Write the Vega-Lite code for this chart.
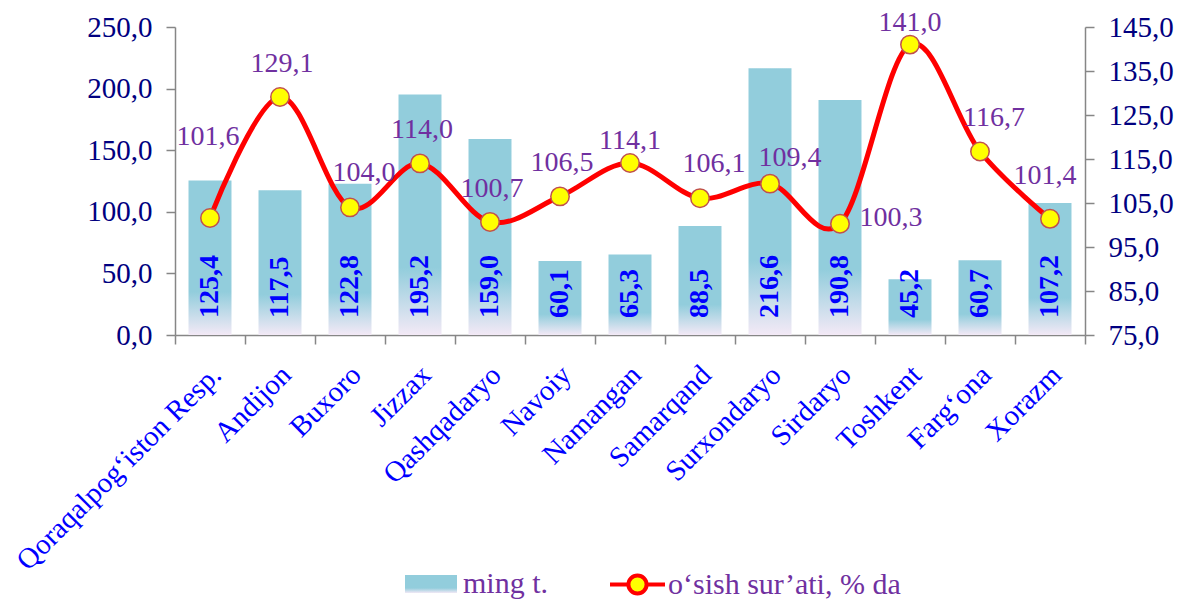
{
  "$schema": "https://vega.github.io/schema/vega-lite/v6.json",
  "width": 910,
  "height": 308,
  "autosize": {"type": "none"},
  "padding": {"left": 175, "top": 27, "right": 92, "bottom": 266},
  "background": "white",
  "config": {
    "view": {"stroke": null},
    "font": "Liberation Serif",
    "locale": {"number": {"decimal": ",", "thousands": " ", "grouping": [3], "currency": ["", ""]}}
  },
  "data": {
    "values": [
      {"region": "Qoraqalpog‘iston Resp.", "tonnes": 125.4, "growth": 101.6},
      {"region": "Andijon", "tonnes": 117.5, "growth": 129.1},
      {"region": "Buxoro", "tonnes": 122.8, "growth": 104.0},
      {"region": "Jizzax", "tonnes": 195.2, "growth": 114.0},
      {"region": "Qashqadaryo", "tonnes": 159.0, "growth": 100.7},
      {"region": "Navoiy", "tonnes": 60.1, "growth": 106.5},
      {"region": "Namangan", "tonnes": 65.3, "growth": 114.1},
      {"region": "Samarqand", "tonnes": 88.5, "growth": 106.1},
      {"region": "Surxondaryo", "tonnes": 216.6, "growth": 109.4},
      {"region": "Sirdaryo", "tonnes": 190.8, "growth": 100.3},
      {"region": "Toshkent", "tonnes": 45.2, "growth": 141.0},
      {"region": "Farg‘ona", "tonnes": 60.7, "growth": 116.7},
      {"region": "Xorazm", "tonnes": 107.2, "growth": 101.4}
    ]
  },
  "layer": [
    {
      "layer": [
        {
          "mark": {"type": "bar", "width": {"band": 0.614}, "fill": {"gradient": "linear", "x1": 0, "y1": 0, "x2": 0, "y2": 1,
                "stops": [{"offset": 0, "color": "#92CDDC"}, {"offset": 0.72, "color": "#92CDDC"}, {"offset": 1, "color": "#F3E9F6"}]}},
          "encoding": {
            "x": {
              "field": "region", "type": "nominal", "sort": null,
              "scale": {"paddingInner": 0, "paddingOuter": 0},
              "axis": {
                "title": null, "labelAngle": -45, "labelAlign": "right", "labelBaseline": "middle",
                "labelFont": "Liberation Serif", "labelFontSize": 29, "labelColor": "#0000FF",
                "tickBand": "extent", "tickSize": 9, "tickColor": "#868686", "tickWidth": 1.5,
                "domainColor": "#868686", "domainWidth": 1.5, "labelOffset": 6, "labelPadding": 26,
                "labelLimit": 0, "labelOverlap": false, "grid": false
              }
            },
            "y": {
              "field": "tonnes", "type": "quantitative",
              "scale": {"domain": [0, 250], "nice": false, "zero": true},
              "axis": {
                "orient": "left", "title": null, "values": [0, 50, 100, 150, 200, 250], "format": ".1f",
                "grid": false, "domainColor": "#868686", "domainWidth": 1.5, "tickColor": "#868686",
                "tickWidth": 1.5, "tickSize": 9, "labelFont": "Liberation Serif", "labelFontSize": 29,
                "labelColor": "#000080", "labelPadding": 14, "labelOverlap": false
              }
            },
            "opacity": {
              "datum": "ming t.", "type": "ordinal",
              "scale": {"type": "ordinal", "range": [1]},
              "legend": {
                "title": null, "orient": "none", "legendX": 230, "legendY": 531,
                "symbolType": "M-1,-0.35H1V0.35H-1Z", "symbolSize": 2704, "symbolStrokeWidth": 0,
                "labelFont": "Liberation Serif", "labelFontSize": 30, "labelColor": "#7030A0", "labelOffset": 6, "labelLimit": 0,
                "encode": {"symbols": {"update": {"fill": {"value": {"gradient": "linear", "x1": 0, "y1": 0, "x2": 0, "y2": 1,
                  "stops": [{"offset": 0, "color": "#92CDDC"}, {"offset": 0.6, "color": "#92CDDC"}, {"offset": 1, "color": "#F3E9F6"}]}}, "opacity": {"value": 1}}}}
              }
            }
          }
        },
        {
          "mark": {"type": "text", "angle": 270, "align": "left", "baseline": "middle", "dx": 17,
            "font": "Liberation Serif", "fontSize": 28, "fontWeight": "bold", "color": "#0000FF"},
          "encoding": {
            "x": {"field": "region", "type": "nominal", "sort": null},
            "y": {"datum": 0},
            "text": {"field": "tonnes", "type": "quantitative", "format": ".1f"}
          }
        }
      ]
    },
    {
      "encoding": {
        "x": {"field": "region", "type": "nominal", "sort": null},
        "y": {
          "field": "growth", "type": "quantitative",
          "scale": {"domain": [75, 145], "nice": false, "zero": false},
          "axis": {
            "orient": "right", "title": null, "values": [75, 85, 95, 105, 115, 125, 135, 145], "format": ".1f",
            "grid": false, "domainColor": "#868686", "domainWidth": 1.5, "tickColor": "#868686",
            "tickWidth": 1.5, "tickSize": 9, "labelFont": "Liberation Serif", "labelFontSize": 29,
            "labelColor": "#000080", "labelPadding": 14, "labelOverlap": false
          }
        }
      },
      "layer": [
        {
          "mark": {"type": "line", "interpolate": "cardinal", "strokeWidth": 5},
          "encoding": {
            "stroke": {
              "datum": "o‘sish sur’ati, % da", "type": "nominal",
              "scale": {"range": ["#FF0000"]},
              "legend": {
                "title": null, "orient": "none", "legendX": 433, "legendY": 528,
                "symbolType": "M-1,0H-0.33M0.33,0H1M0.33,0A0.33,0.33 0 1 1 -0.33,0A0.33,0.33 0 1 1 0.33,0",
                "symbolSize": 3025, "symbolStrokeWidth": 4, "symbolFillColor": "#FFFF00",
                "labelFont": "Liberation Serif", "labelFontSize": 30, "labelColor": "#7030A0", "labelOffset": 1, "labelLimit": 0,
                "encode": {"symbols": {"update": {"fill": {"value": "#FFFF00"}, "strokeWidth": {"value": 4}, "opacity": {"value": 1}}}}
              }
            }
          }
        },
        {
          "mark": {"type": "point", "shape": "circle", "size": 340, "filled": true, "fill": "#FFFF00",
            "stroke": "#C0504D", "strokeWidth": 1.5, "opacity": 1}
        },
        {
          "transform": [{"filter": {"field": "region", "oneOf": ["Andijon", "Qashqadaryo", "Navoiy", "Jizzax"]}}],
          "mark": {"type": "text", "align": "center", "baseline": "middle", "dy": -33, "dx": 2,
            "font": "Liberation Serif", "fontSize": 28, "color": "#7030A0"},
          "encoding": {"text": {"field": "growth", "type": "quantitative", "format": ".1f"}}
        },
        {
          "transform": [{"filter": {"field": "region", "oneOf": ["Buxoro", "Samarqand", "Farg‘ona"]}}],
          "mark": {"type": "text", "align": "center", "baseline": "middle", "dy": -34, "dx": 14,
            "font": "Liberation Serif", "fontSize": 28, "color": "#7030A0"},
          "encoding": {"text": {"field": "growth", "type": "quantitative", "format": ".1f"}}
        },
        {
          "transform": [{"filter": {"field": "region", "oneOf": ["Namangan", "Toshkent"]}}],
          "mark": {"type": "text", "align": "center", "baseline": "middle", "dy": -22, "dx": 0,
            "font": "Liberation Serif", "fontSize": 28, "color": "#7030A0"},
          "encoding": {"text": {"field": "growth", "type": "quantitative", "format": ".1f"}}
        },
        {
          "transform": [{"filter": {"field": "region", "equal": "Qoraqalpog‘iston Resp."}}],
          "mark": {"type": "text", "align": "center", "baseline": "middle", "dy": -81, "dx": -2,
            "font": "Liberation Serif", "fontSize": 28, "color": "#7030A0"},
          "encoding": {"text": {"field": "growth", "type": "quantitative", "format": ".1f"}}
        },
        {
          "transform": [{"filter": {"field": "region", "equal": "Surxondaryo"}}],
          "mark": {"type": "text", "align": "center", "baseline": "middle", "dy": -26, "dx": 20,
            "font": "Liberation Serif", "fontSize": 28, "color": "#7030A0"},
          "encoding": {"text": {"field": "growth", "type": "quantitative", "format": ".1f"}}
        },
        {
          "transform": [{"filter": {"field": "region", "equal": "Sirdaryo"}}],
          "mark": {"type": "text", "align": "center", "baseline": "middle", "dy": -6, "dx": 51,
            "font": "Liberation Serif", "fontSize": 28, "color": "#7030A0"},
          "encoding": {"text": {"field": "growth", "type": "quantitative", "format": ".1f"}}
        },
        {
          "transform": [{"filter": {"field": "region", "equal": "Xorazm"}}],
          "mark": {"type": "text", "align": "center", "baseline": "middle", "dy": -43, "dx": -5,
            "font": "Liberation Serif", "fontSize": 28, "color": "#7030A0"},
          "encoding": {"text": {"field": "growth", "type": "quantitative", "format": ".1f"}}
        }
      ]
    }
  ],
  "resolve": {"scale": {"y": "independent"}}
}
